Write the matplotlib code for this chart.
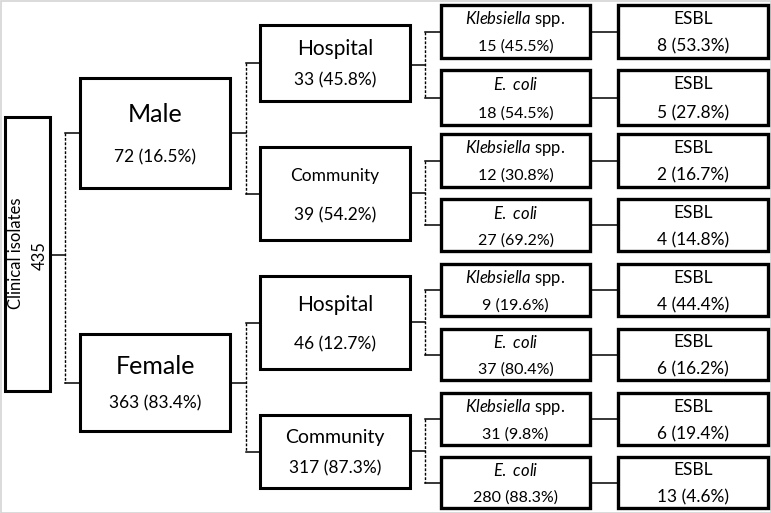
import matplotlib
matplotlib.use("Agg")
import matplotlib.pyplot as plt
from matplotlib.patches import Rectangle

plt.rcParams['font.family'] = ['Lato', 'DejaVu Sans']
plt.rcParams['mathtext.fontset'] = 'custom'
plt.rcParams['mathtext.rm'] = 'Lato'
plt.rcParams['mathtext.it'] = 'Lato:italic'

# data
root_label = "Clinical isolates"
root_n = 435
sex = ["Male", "Female"]
sex_n = [72, 363]
sex_pct = [16.5, 83.4]
setting = ["Hospital", "Community"]
setting_n = [33, 39, 46, 317]
setting_pct = [45.8, 54.2, 12.7, 87.3]
organism = [r"$\mathit{Klebsiella}$ spp.", r"$\mathit{E.\ coli}$"]
org_n = [15, 18, 12, 27, 9, 37, 31, 280]
org_pct = [45.5, 54.5, 30.8, 69.2, 19.6, 80.4, 9.8, 88.3]
esbl_label = "ESBL"
esbl_n = [8, 5, 2, 4, 4, 6, 6, 13]
esbl_pct = [53.3, 27.8, 16.7, 14.8, 44.4, 16.2, 19.4, 4.6]

# layout (pixels)
root_box = (5, 117, 50, 391)
sex_x = (80, 230)
sex_y = [(78, 188), (334, 431)]
set_x = (260, 410)
set_y = [(25, 101), (147, 240), (276, 369), (415, 488)]
set_fs = [15, 12.5, 15, 14]
org_x = (441, 590)
esbl_x = (618, 768)
org_y = [(5, 58), (70, 125), (134, 187), (199, 251),
         (264, 316), (329, 380), (393, 445), (457, 508)]

fig = plt.figure(figsize=(7.71, 5.13), dpi=100)
ax = fig.add_axes([0, 0, 1, 1])
ax.set_xlim(0, 771)
ax.set_ylim(513, 0)
ax.axis('off')

# light border round the picture
ax.add_patch(Rectangle((0.5, 0.5), 770, 512, fill=False, ec='#d4d4d4', lw=1.2))


def box(x0, x1, y0, y1, lw=2.2):
    ax.add_patch(Rectangle((x0, y0), x1 - x0, y1 - y0, fill=True, fc='white',
                           ec='black', lw=lw, zorder=3))


def branch(x_from, y_from, x_stem, x_to, child_ys):
    ax.plot([x_from, x_stem], [y_from, y_from], color='black', lw=1.1, zorder=2)
    ax.plot([x_stem, x_stem], [min(child_ys), max(child_ys)], color='black',
            lw=1.0, ls=(0, (2, 1.2)), zorder=2)
    for cy in child_ys:
        ax.plot([x_stem, x_to], [cy, cy], color='black', lw=1.1, zorder=2)


def mid(t):
    return (t[0] + t[1]) / 2


# root
x0, y0, x1, y1 = root_box
box(x0, x1, y0, y1)
ax.text(16, 253, root_label, rotation=90, ha='center', va='center', fontsize=12, zorder=4)
ax.text(40, 256, str(root_n), rotation=90, ha='center', va='center', fontsize=12, zorder=4)

branch(x1, 255, 65, sex_x[0], [mid(s) for s in sex_y])

for i, (s, n, p) in enumerate(zip(sex, sex_n, sex_pct)):
    t, b = sex_y[i]
    h = b - t
    box(sex_x[0], sex_x[1], t, b)
    cx = mid(sex_x)
    ax.text(cx, t + 0.33 * h, s, ha='center', va='center', fontsize=18, zorder=4)
    ax.text(cx, t + 0.72 * h, f"{n} ({p}%)", ha='center', va='center', fontsize=12.5, zorder=4)
    kids = set_y[2 * i:2 * i + 2]
    branch(sex_x[1], mid(sex_y[i]), 246, set_x[0], [mid(k) for k in kids])

for j, (n, p) in enumerate(zip(setting_n, setting_pct)):
    t, b = set_y[j]
    h = b - t
    box(set_x[0], set_x[1], t, b)
    cx = mid(set_x)
    ax.text(cx, t + 0.31 * h, setting[j % 2], ha='center', va='center',
            fontsize=set_fs[j], zorder=4)
    ax.text(cx, t + 0.73 * h, f"{n} ({p}%)", ha='center', va='center', fontsize=12.5, zorder=4)
    kids = org_y[2 * j:2 * j + 2]
    ky = [mid(k) for k in kids]
    branch(set_x[1], (ky[0] + ky[1]) / 2, 425, org_x[0], ky)

for k in range(len(org_n)):
    t, b = org_y[k]
    h = b - t
    box(org_x[0], org_x[1], t, b, lw=2.4)
    box(esbl_x[0], esbl_x[1], t, b, lw=2.4)
    ax.plot([org_x[1], esbl_x[0]], [mid(org_y[k])] * 2, color='black', lw=1.1, zorder=2)
    cx = mid(org_x)
    ax.text(cx, t + 0.27 * h, organism[k % 2], ha='center', va='center', fontsize=12, zorder=4)
    ax.text(cx, t + 0.79 * h, f"{org_n[k]} ({org_pct[k]}%)", ha='center', va='center',
            fontsize=11.5, zorder=4)
    ex = mid(esbl_x)
    ax.text(ex, t + 0.26 * h, esbl_label, ha='center', va='center', fontsize=12.5, zorder=4)
    ax.text(ex, t + 0.79 * h, f"{esbl_n[k]} ({esbl_pct[k]}%)", ha='center', va='center',
            fontsize=12.5, zorder=4)

fig.savefig("out.png", dpi=100, facecolor='white')
